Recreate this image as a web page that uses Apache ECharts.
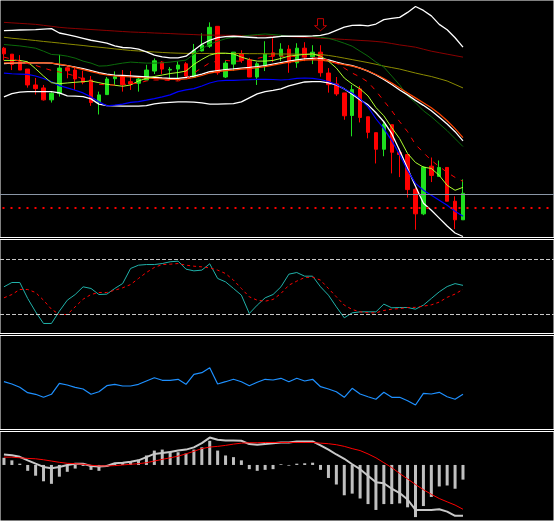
<!DOCTYPE html>
<html>
<head>
<meta charset="utf-8">
<script src="https://cdn.jsdelivr.net/npm/echarts@6.0.0/dist/echarts.min.js"></script>
<style>
html, body { margin: 0; padding: 0; background: #000; }
#main { width: 554px; height: 521px; }
</style>
</head>
<body>
<div id="main"></div>
<script>
var bars = ['01','02','03','04','05','06','07','08','09','10','11','12','13','14','15','16','17','18','19','20',
            '21','22','23','24','25','26','27','28','29','30','31','32','33','34','35','36','37','38','39','40',
            '41','42','43','44','45','46','47','48','49','50','51','52','53','54','55','56','57','58','59'];

// candles
var open  = [193,187,179.3,172,156,153,141,147.3,173.3,171,163,161,139,146.3,162.3,164,159.3,157.7,161,170,
             179,171,172,177.3,163.7,190.3,195,215,164,177,187.3,181,164,175.3,188.3,185,192,178.3,193,184.3,
             189,168,157,148,125.3,152,124,108,91.3,116,88,86,51,26.3,74.3,64,73,39,20.3];
var close = [187.3,176.7,171,156,152.3,141,147.7,173,170.3,162,158.7,138.3,146,162,164.3,156.3,157,162,171,180.3,
             172,171.7,176,165,191,196.3,214,168.3,178,189,180.7,164,177.3,187,185,192,178.3,193,184.3,189,
             168.3,156.3,147,125,151.3,123.3,108.3,91.3,116.3,88.3,86,50.7,26.3,73.3,65,73,39,20.3,47];
var low   = [180.7,171,171,153.3,146.3,140.3,138.3,144.3,162.7,151,156.7,135,126.3,146.3,155.3,149.3,151,149.3,161,167,
             167,161.3,160.3,164,163.7,189.7,193.3,166.3,163,170.3,178.3,164,156,170,179,180,168.3,173.3,180,177,
             164.3,148.3,145,121,104.3,118.3,102.3,77,84.3,67,63.3,42.7,10.3,25,58.3,64,39,11,20.3];
var high  = [194.3,187,186,172,163,156,149.3,186.3,174.7,174.7,170.3,165,149.3,164,169.7,171,170,164.3,176.3,182.7,
             180,174,179.7,179,197.3,208,219,215,180.7,189,191,183.3,179,200,203,198,196,198,199,196,
             196,173,164,148,156,155,124,108,119.3,116,92,86,52.3,74.3,83,80,73,44,61];

// main pane lines
var maroon = [219,218.5,218,217.5,217,216,215,214,213.3,212.8,212.3,211.8,211.3,210.8,210.3,209.8,209.3,209,208.7,208.3,
              208,207.7,207.3,207,206.7,206.3,206.2,206.1,206,205.9,205.8,205.7,205.6,205.4,205.2,205,204.6,204.2,203.8,203.4,
              203,202.6,202.3,201.8,201.3,200.8,200.4,199.8,199,197.7,196.3,195.2,194,192,190,188.5,187,185.5,184];
var olive = [204,203,202.3,201.5,200.7,199.8,199,198.2,197.3,196.5,195.7,194.8,194,193.2,192.3,191.5,190.7,190.2,189.7,189.2,
             188.7,188.3,188,187.8,187.7,187.7,187.7,187.7,187.7,187.7,187.6,187.5,187.5,187.4,187.3,187.2,187.1,187,186.9,186.8,
             186.7,185.7,184.5,183,181.5,180,178.5,176.8,175,173.5,172,170,168,166.2,164.5,162.3,160,156.5,153];
var dkgreen = [196.7,196,195.3,194.2,193,190,186.7,186.2,185,183,180,178,175,175.3,176.7,178,179,178.5,178,178,
               178.3,179,180,181,187,192.5,197,200,202.5,204,205,206,206.7,207.3,206.7,206,205,205,205,205,
               204,203,200.7,198,195,190,185,179,174,165,156,145,138,130,124,117,110,102,94];
var upper = [210.7,211,211.3,211.5,211.7,212.2,212.7,208.3,206.7,205,203,201,199.7,198,195.3,193.7,193.3,192,189.3,186,
             184.3,183.3,183.3,185,191,197,201,203.7,204.7,205,204.5,204,203.5,203.3,204,205,205,205,205,205.3,
             206,207.7,211,214.3,216,216.3,215.5,217.3,221.7,223,224,229,235,231,225.5,217,211.5,203.5,194];
var middle = [177.5,178,178.3,178.3,178.3,178.3,178,176.5,175.5,174,172.5,170.5,168.3,167,166,165.5,165,164.5,164,163.5,
              163,162.7,162.7,163.5,165,167,169.3,170.5,171.5,172.2,173,173.7,174.5,175.5,177,178.5,180,181.3,182.2,182.7,
              182.7,181.3,179,177,175.5,173,170,166,161.5,156.5,151,146,140.5,135.5,130,123.5,116.7,109,99.7];
var orange = [178.3,178.3,178.3,178.3,178.3,178.3,178,177,175.5,173.5,171.5,169.5,167.5,166,165,164.5,164,163.5,163,162.5,
              162,161.5,161.5,162,163.5,165.5,168,169.5,170.5,171,172,172.5,173.5,174.5,176,177.5,179,180,181,181.5,
              181,180,178,176.5,175,173,170,166.5,162.5,158,153,148,143,138,133,127,120,112,103];
var lower = [144,147.3,148.7,149.3,149.3,149.3,149.3,148,145,144.7,144.3,142,136.7,135.3,135,134.7,134.7,134.7,135.3,137,
             138,138.5,139,139,138.7,138,136.7,136.7,137,137.3,139,143,147,149.3,150.5,152,155,157,159,159.3,
             159.3,158,156,152,146.7,141,136,128,119,107,90,72,54,37,30,22,14,7,3.5];
var blue = [168,167.3,167,166.7,165,162.5,159.3,155.3,153,150.7,148,144,139,135,135.7,136.7,138.5,139.3,140.7,142.3,
            144,146,149.3,151,152.3,155,158,160,160.7,160.7,161,161.3,161.7,161.7,161.5,161,161.5,162.7,163,162.7,
            161.5,159.5,156.5,152,148,142,134,122,112,100,86,70,57,50,45,40,35,29,24];
var lime = [180.7,180.7,180.7,179.3,172.3,165,158.3,157.3,158,158.7,159.3,160,158.3,156.7,155.7,154.7,156,160,162.7,164.5,
            166,167.5,168.5,170,176.7,181.7,186,188,188,187.3,184,181.5,180,180,180.7,182.7,185,186,186.7,187.3,
            185,180,173,163,157,152,145,133.3,125,113,102,87,78,73.3,72,65,55,50,53];
var redDash = [184,182,180,177.5,175.7,173,170.7,169,167.3,165,162,159,156.7,156,156,156.5,157,158,160,161,
               161,160.5,160,162,168,173.3,178.3,180,180.7,180,180,181,182.7,184.5,185,185,185,184.5,184,183.5,
               182.5,181,178,173,168,164,159,150,140,130,119,109,96,88,80,74,68,63,59];
var priceLine = 46.5;
var dotLine = 32;
var arrowBar = 40, arrowPrice = 216.7;

// stochastic
var stochK = [50.2,54.9,54.9,37.5,22.9,10.2,10.2,23.6,35.6,41.8,50.2,48.4,41.8,42.2,48.4,53.8,70.2,73.8,74.5,74.5,
              75.6,77.5,78.2,69.5,67.6,68.4,75.3,59.3,55.6,48.4,41.1,21.1,30.2,38.2,41.8,50.2,64,65.8,61.8,61.8,
              50.2,41.1,28.4,16.4,21.8,22.9,22.9,22.9,31.3,27.3,27.6,27.6,25.8,30.2,37.5,44.7,50.5,53.7,51.8];
var stochD = [38.2,41.8,47.3,47.3,44,35.6,25.8,20,20,28.4,36.7,41.8,44,44,46.5,49.1,52.7,59.3,65.8,71.3,
              74.5,74.9,75.6,73.8,72.7,72,70.9,68.4,64.7,57.5,48.4,39.3,35.6,34.5,36.4,42.9,52,56.4,60.4,60.7,
              57.5,48.4,39.3,30.2,25.5,22.9,21.8,21.8,24.4,25.8,26.5,27.6,27.8,29.1,30.5,33.5,38.7,42.3,47.5];
var stochLevels = [80, 20];

// third pane
var osc = [47.3,45,41.7,36.3,34.7,31.7,34.7,45.7,44,41.7,40,34.7,37.3,43.3,44.7,43,43,44.7,48,51.3,
           48.7,48.7,49.7,44.7,54.7,56.3,61.3,45,47.3,49.7,47.3,43.3,46.7,49.7,49,50.7,47.3,50.7,48,49.7,
           42.3,40,37.3,31.7,40.7,35,32.3,29.7,36.7,31.7,31.7,28.3,24,35.7,35,36.7,32.3,29.7,34.7];

// macd
var macdHist = [7.3,4.7,1.3,-6,-11,-16.7,-19.3,-12,-7,-3.7,-1,-5,-6,-1.7,1.3,2.3,3.3,5.3,9.7,14.7,
                15.7,14,13,11.7,15.7,18,24.7,14.7,9.7,8,4.7,-4.3,-6,-5,-4.3,0.7,-0.7,1.3,1.7,2.3,
                -5,-13.3,-20,-31,-29.3,-34.3,-40,-46,-40,-40,-39.3,-43.3,-53.3,-42,-32.7,-22,-21,-24.3,-15];
var macdMain = [10.7,10,8.3,4.7,1.3,-2,-3.3,-2,0,1.3,1.3,-1,-1.7,-1,1.7,2.3,3.3,4.7,8,11.3,
                12.3,13.3,14.7,15.7,18,22.3,28,25.7,25,25,24.7,21.3,20.7,21.3,22.3,23,23,24,24,24,
                20,15.7,10.7,6.3,0.7,-4.3,-11,-17.7,-18.7,-24.3,-28.7,-35.3,-46,-46,-46,-45.3,-47.7,-52,-52];
var macdSignal = [8,8,7.3,6.7,6.3,5.3,4,2.7,1.7,1.3,0.7,-0.3,-1,-1,-0.7,0,0.7,1.3,2.3,4,
                  5.7,7.3,9,11.3,14,16.7,18.3,19,20,21.3,22.3,22.7,22.7,23,23,23,23,23,23,23,
                  22.3,21.7,20.7,19,16.7,14.7,11.3,7.3,2.3,-2.7,-8.7,-14.3,-20,-25.3,-30,-34.3,-37.7,-41,-45.3];

// empty slots on the right side of the chart
var pad = ['','','','','','','','','','',''];
var xData = bars.concat(pad);

var myChart = echarts.init(document.getElementById('main'));

var paneGrid = function(top, height){
    return {left: -1.5, right: -4.5, top: top, height: height,
            show: true, borderColor: '#ffffff', borderWidth: 1, backgroundColor: 'transparent'};
};
var xAx = function(idx){
    return {type: 'category', gridIndex: idx, data: xData, boundaryGap: true, show: false};
};
var yAx = function(idx, min, max){
    return {type: 'value', gridIndex: idx, min: min, max: max, show: false, splitLine: {show: false}};
};
var line = function(data, color, width, idx, type){
    return {
        type: 'line', xAxisIndex: idx, yAxisIndex: idx, data: data,
        showSymbol: false, symbol: 'none', silent: true, z: 3,
        lineStyle: {color: color, width: width, type: type || 'solid'}
    };
};

var candles = [];
for (var i = 0; i < bars.length; i++) {
    candles.push([open[i], close[i], low[i], high[i]]);
}

var stochSeries = line(stochK, '#20b2aa', 1, 1);
stochSeries.markLine = {
    symbol: 'none', silent: true, label: {show: false},
    lineStyle: {color: '#c8c8c8', width: 1, type: [4, 2]},
    data: stochLevels.map(function(v){ return {yAxis: v}; })
};

option = {
    backgroundColor: '#000000',
    animation: false,
    grid: [paneGrid(-1.5, 239), paneGrid(239.5, 94), paneGrid(335.5, 94), paneGrid(431.5, 92)],
    xAxis: [xAx(0), xAx(1), xAx(2), xAx(3)],
    yAxis: [yAx(0, 2.5, 241.5), yAx(1, -0.73, 101.82), yAx(2, -0.5, 93.5), yAx(3, -57.3, 34.2)],
    series: [
        {
            type: 'candlestick', xAxisIndex: 0, yAxisIndex: 0, data: candles,
            barWidth: 4, silent: true, z: 2,
            itemStyle: {
                color: '#1ee01e', color0: '#ff0000',
                borderColor: '#1ee01e', borderColor0: '#ff0000', borderWidth: 1
            },
            markLine: {
                symbol: 'none', silent: true, label: {show: false},
                data: [
                    {yAxis: priceLine, lineStyle: {color: '#8a96a6', width: 1, type: 'solid'}},
                    {yAxis: dotLine, lineStyle: {color: '#ff0000', width: 2, type: [2, 6], dashOffset: 5.5}}
                ]
            },
            markPoint: {
                silent: true,
                symbol: 'path://M3,0L9,0L9,7L12,7L6,12L0,7L3,7Z',
                symbolSize: [12, 12],
                label: {show: false},
                itemStyle: {color: 'rgba(0,0,0,0)', borderColor: '#c00000', borderWidth: 1},
                data: [{coord: [bars[arrowBar], arrowPrice]}]
            }
        },
        line(maroon, '#8b0000', 1, 0),
        line(olive, '#8b8b00', 1, 0),
        line(dkgreen, '#0b6b0b', 1, 0),
        line(upper, '#ffffff', 1.3, 0),
        line(lower, '#ffffff', 1.3, 0),
        line(middle, '#ffffff', 1.3, 0),
        line(orange, '#ff4500', 1.2, 0),
        line(blue, '#0000ff', 1.2, 0),
        line(lime, '#adff2f', 1, 0),
        line(redDash, '#ff0000', 1, 0, [5, 6]),

        stochSeries,
        line(stochD, '#ff0000', 1, 1, [3, 3]),

        line(osc, '#1e90ff', 1.2, 2),

        {
            type: 'bar', xAxisIndex: 3, yAxisIndex: 3, data: macdHist,
            barWidth: 3, silent: true, itemStyle: {color: '#c0c0c0'}
        },
        line(macdMain, '#c8c8c8', 2, 3),
        line(macdSignal, '#ff0000', 1, 3)
    ]
};

myChart.setOption(option);
</script>
</body>
</html>
